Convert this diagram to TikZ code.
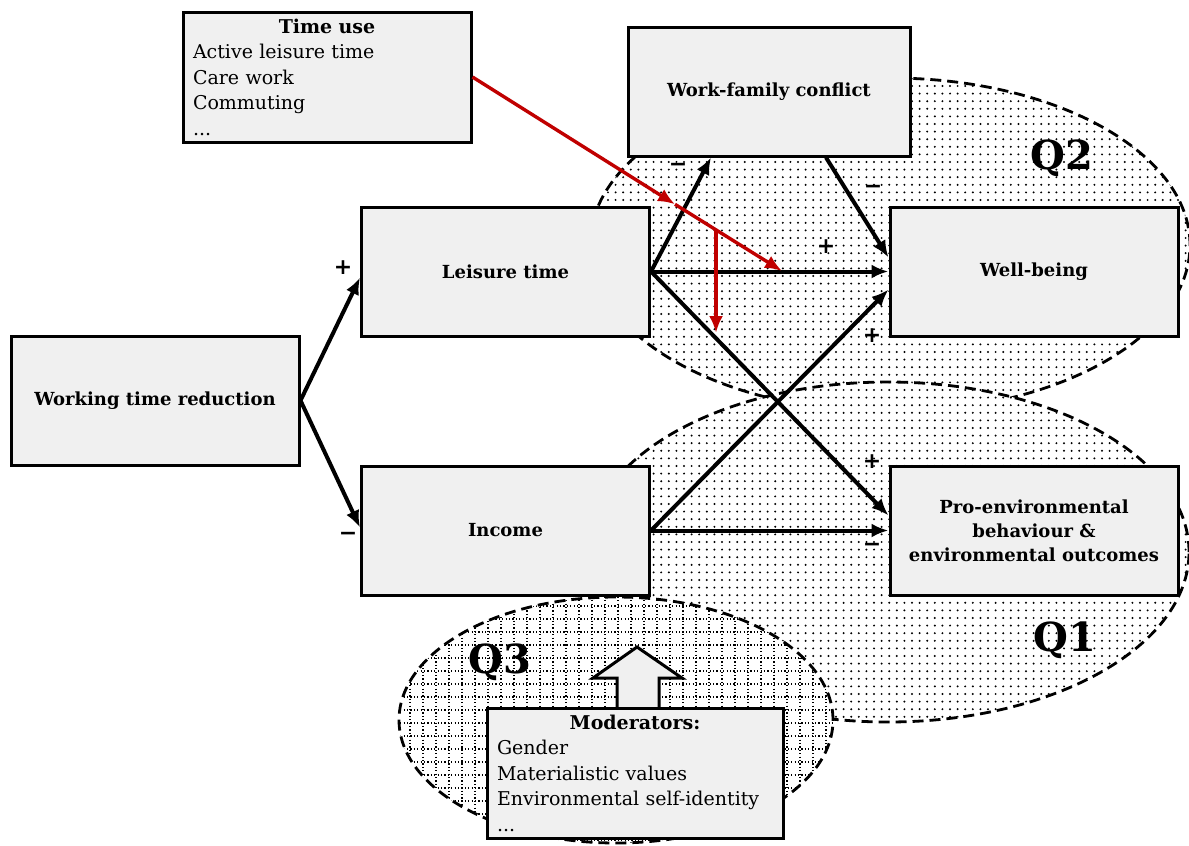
\documentclass[tikz,border=0pt]{standalone}
\usepackage{fontspec}
\setmainfont{DejaVu Serif}
\newfontfamily\signfont{DejaVu Sans}
\usetikzlibrary{arrows.meta,patterns,patterns.meta,calc}
\definecolor{boxgray}{HTML}{F0F0F0}
\definecolor{arrred}{HTML}{C00000}
\tikzdeclarepattern{
  name=sparsedots,
  type=uncolored,
  bottom left={(-0.6pt,-0.6pt)},
  top right={(0.6pt,0.6pt)},
  tile size={(3.8pt,3.8pt)},
  code={\pgfpathcircle{\pgfpointorigin}{0.55pt}\pgfusepath{fill}}
}
\tikzset{
  box/.style={draw=black, line width=1.5pt, fill=boxgray, minimum width=144pt,
    minimum height=64.5pt, inner sep=0pt, align=center,
    font=\bfseries\fontsize{9}{12}\selectfont},
  listbox/.style={draw=black, line width=1.5pt, fill=boxgray, minimum height=65pt,
    inner xsep=5pt, inner ysep=0pt, align=left,
    font=\fontsize{9.5}{12.75}\selectfont},
  conn/.style={line width=2pt, -{Latex[length=8.5pt,width=7pt]}},
  redconn/.style={line width=1.7pt, arrred, -{Latex[length=8.5pt,width=7pt]}},
  sign/.style={font=\signfont\bfseries\fontsize{11}{11}\selectfont, inner sep=0pt},
  region/.style={line width=1.4pt, dash pattern=on 5.5pt off 3pt},
  qlabel/.style={font=\bfseries\fontsize{20}{20}\selectfont, inner sep=0pt},
  gridline/.style={line width=0.6pt, dash pattern=on 0.6pt off 1.1pt},
}
\begin{document}
\begin{tikzpicture}[x=0.5pt,y=-0.5pt]
\useasboundingbox (0,0) rectangle (1189,846);

% regions
\fill[white] (890,245) ellipse [x radius=150pt, y radius=83.5pt];
\fill[pattern=sparsedots, pattern color=black] (890,245) ellipse [x radius=150pt, y radius=83.5pt];
\draw[region] (890,245) ellipse [x radius=150pt, y radius=83.5pt];

\fill[white] (888,552) ellipse [x radius=150.5pt, y radius=85pt];
\fill[pattern=sparsedots, pattern color=black] (888,552) ellipse [x radius=150.5pt, y radius=85pt];
\draw[region] (888,552) ellipse [x radius=150.5pt, y radius=85pt];

\fill[white] (616,720) ellipse [x radius=108.5pt, y radius=61.5pt];
\begin{scope}
  \clip (616,720) ellipse [x radius=108.5pt, y radius=61.5pt];
  \foreach \gx in {384,397,...,840} {\draw[gridline] (\gx,590) -- (\gx,850);}
  \foreach \gy in {593,606,...,850} {\draw[gridline] (390,\gy) -- (840,\gy);}
\end{scope}
\draw[region] (616,720) ellipse [x radius=108.5pt, y radius=61.5pt];

\node[qlabel] (q2) at (1062,158) {Q2};
\node[qlabel] (q1) at (1065,640) {Q1};
\node[qlabel] (q3) at (500,662) {Q3};

% boxes
\node[listbox, text width=134pt] (tu) at (327,77)
  {\makebox[\linewidth][c]{\bfseries Time use}\\Active leisure time\\Care work\\Commuting\\...};
\node[box, minimum width=141pt] (wfc) at (769,91.5) {Work-family conflict};
\node[box] (lt) at (505.5,271.5) {Leisure time};
\node[box] (wb) at (1034,271.5) {Well-being};
\node[box] (wtr) at (155,400.5) {Working time reduction};
\node[box] (inc) at (505.5,530.5) {Income};
\node[box] (pe) at (1034,530.5) {Pro-environmental\\behaviour \&\\environmental outcomes};

% block arrow
\draw[line width=1.5pt, fill=boxgray] (617,708) -- (617,678) -- (593,678) -- (637,647)
  -- (682,678) -- (659,678) -- (659,708);
\node[listbox, text width=138pt] (mod) at (635,773)
  {\makebox[\linewidth][c]{\bfseries Moderators:}\\Gender\\Materialistic values\\Environmental self-identity\\...};

% connectors
\draw[conn] (wtr.east) -- ([yshift=-3pt]lt.west);
\draw[conn] (wtr.east) -- ([yshift=1.5pt]inc.west);
\draw[conn] (lt.east) -- ([xshift=-29pt]wfc.south);
\draw[conn] (lt.east) -- (wb.west);
\draw[conn] (lt.east) -- ([yshift=7.5pt]pe.west);
\draw[conn] (inc.east) -- ([yshift=-9pt]wb.west);
\draw[conn] (inc.east) -- (pe.west);
\draw[conn] ([xshift=28.5pt]wfc.south) -- ([yshift=7pt]wb.west);

% red moderation arrows
\coordinate (rm) at (675,204.3);
\coordinate (rj) at (716,229.8);
\coordinate (rt) at (782,271);
\coordinate (rb) at (716,333);
\draw[redconn] (tu.east) -- (rm);
\draw[redconn] (rm) -- (rt);
\draw[redconn] (rj) -- (rb);

% signs
\node[sign] (s1) at (343,268) {+};
\node[sign] (s2) at (348,536) {−};
\node[sign] (s3) at (678,167) {−};
\node[sign] (s4) at (873,189) {−};
\node[sign] (s5) at (826,247) {+};
\node[sign] (s6) at (872,336) {+};
\node[sign] (s7) at (872,462) {+};
\node[sign] (s8) at (872,547) {−};
\end{tikzpicture}
\end{document}
